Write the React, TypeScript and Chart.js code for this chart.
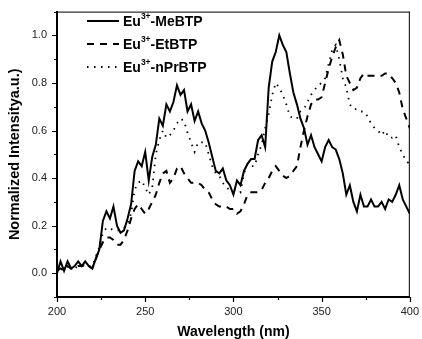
import React, { useEffect, useRef } from 'react';
import { Chart, registerables } from 'chart.js';
Chart.register(...registerables);

const wavelengths = [
  200, 202, 204, 206, 208, 210, 212, 214, 216, 218,
  220, 222, 224, 226, 228, 230, 232, 234, 236, 238,
  240, 242, 244, 246, 248, 250, 252, 254, 256, 258,
  260, 262, 264, 266, 268, 270, 272, 274, 276, 278,
  280, 282, 284, 286, 288, 290, 292, 294, 296, 298,
  300, 302, 304, 306, 308, 310, 312, 314, 316, 318,
  320, 322, 324, 326, 328, 330, 332, 334, 336, 338,
  340, 342, 344, 346, 348, 350, 352, 354, 356, 358,
  360, 362, 364, 366, 368, 370, 372, 374, 376, 378,
  380, 382, 384, 386, 388, 390, 392, 394, 396, 398,
  400,
];

const meBTP = [
  0.00, 0.05, 0.01, 0.05, 0.02, 0.03, 0.05, 0.03, 0.05, 0.03,
  0.02, 0.06, 0.10, 0.22, 0.26, 0.23, 0.28, 0.20, 0.17, 0.18,
  0.23, 0.29, 0.43, 0.47, 0.45, 0.51, 0.39, 0.49, 0.54, 0.65,
  0.62, 0.71, 0.68, 0.72, 0.79, 0.75, 0.77, 0.68, 0.71, 0.64,
  0.68, 0.63, 0.60, 0.55, 0.49, 0.43, 0.42, 0.44, 0.39, 0.37,
  0.33, 0.39, 0.37, 0.43, 0.46, 0.48, 0.48, 0.56, 0.58, 0.53,
  0.78, 0.89, 0.93, 1.00, 0.96, 0.93, 0.84, 0.76, 0.71, 0.65,
  0.61, 0.54, 0.58, 0.53, 0.50, 0.47, 0.53, 0.56, 0.53, 0.52,
  0.48, 0.42, 0.33, 0.37, 0.30, 0.26, 0.33, 0.28, 0.28, 0.31,
  0.28, 0.28, 0.30, 0.27, 0.31, 0.30, 0.33, 0.37, 0.31, 0.28,
  0.25,
];

const etBTP = [
  0.01, 0.02, 0.01, 0.03, 0.02, 0.02, 0.03, 0.03, 0.04, 0.03,
  0.02, 0.06, 0.10, 0.13, 0.15, 0.15, 0.14, 0.12, 0.12, 0.14,
  0.18, 0.23, 0.27, 0.29, 0.27, 0.25, 0.27, 0.30, 0.33, 0.38,
  0.42, 0.43, 0.38, 0.40, 0.44, 0.45, 0.42, 0.40, 0.38, 0.38,
  0.38, 0.37, 0.35, 0.34, 0.31, 0.29, 0.28, 0.28, 0.28, 0.27,
  0.27, 0.25, 0.26, 0.29, 0.33, 0.34, 0.34, 0.34, 0.35, 0.38,
  0.40, 0.43, 0.45, 0.43, 0.41, 0.40, 0.41, 0.43, 0.45, 0.53,
  0.60, 0.66, 0.71, 0.73, 0.73, 0.74, 0.80, 0.86, 0.91, 0.95,
  0.98, 0.92, 0.83, 0.80, 0.77, 0.78, 0.82, 0.84, 0.83, 0.83,
  0.83, 0.83, 0.83, 0.84, 0.84, 0.82, 0.80, 0.76, 0.69, 0.65,
  0.61,
];

const nPrBTP = [
  0.01, 0.02, 0.02, 0.03, 0.02, 0.02, 0.03, 0.03, 0.03, 0.03,
  0.03, 0.07, 0.11, 0.17, 0.19, 0.19, 0.18, 0.18, 0.18, 0.19,
  0.21, 0.25, 0.35, 0.38, 0.39, 0.36, 0.33, 0.36, 0.50, 0.56,
  0.60, 0.57, 0.58, 0.60, 0.63, 0.65, 0.64, 0.59, 0.55, 0.51,
  0.55, 0.55, 0.55, 0.50, 0.45, 0.42, 0.41, 0.38, 0.36, 0.35,
  0.35, 0.35, 0.34, 0.42, 0.46, 0.45, 0.45, 0.50, 0.54, 0.61,
  0.67, 0.75, 0.80, 0.78, 0.75, 0.71, 0.66, 0.65, 0.65, 0.68,
  0.69, 0.72, 0.75, 0.77, 0.79, 0.80, 0.82, 0.88, 0.94, 0.96,
  0.90, 0.82, 0.78, 0.71, 0.69, 0.69, 0.68, 0.68, 0.66, 0.63,
  0.61, 0.60, 0.58, 0.60, 0.57, 0.57, 0.58, 0.53, 0.50, 0.47,
  0.46,
];

const seriesNames = ['-MeBTP', '-EtBTP', '-nPrBTP'];
const xMajorTicks = [200, 250, 300, 350, 400];
const xMinorTicks = [225, 275, 325, 375];
const yMajorTicks = [0, 0.2, 0.4, 0.6, 0.8, 1.0];
const yMinorTicks = [-0.1, 0.1, 0.3, 0.5, 0.7, 0.9, 1.1];

const FONT = 'Arial, "Liberation Sans", sans-serif';

const framePlugin = {
  id: 'frameAndLegend',
  afterDraw(chart: any) {
    const { ctx, chartArea, scales } = chart;
    const { left, right, top, bottom } = chartArea;
    const xs = scales.x;
    const ys = scales.y;
    ctx.save();
    ctx.strokeStyle = '#000';
    ctx.lineWidth = 1;
    ctx.beginPath();
    ctx.moveTo(left, top + 0.5);
    ctx.lineTo(right, top + 0.5);
    ctx.moveTo(right - 0.5, top);
    ctx.lineTo(right - 0.5, bottom);
    ctx.stroke();
    ctx.lineWidth = 1.2;
    ctx.beginPath();
    xMajorTicks.forEach((v) => {
      const p = Math.round(xs.getPixelForValue(v)) + 0.5;
      ctx.moveTo(p, bottom);
      ctx.lineTo(p, bottom + 5);
    });
    xMinorTicks.forEach((v) => {
      const p = Math.round(xs.getPixelForValue(v)) + 0.5;
      ctx.moveTo(p, bottom);
      ctx.lineTo(p, bottom + 3);
    });
    yMajorTicks.forEach((v) => {
      const p = Math.round(ys.getPixelForValue(v)) + 0.5;
      ctx.moveTo(left, p);
      ctx.lineTo(left - 5, p);
    });
    yMinorTicks.forEach((v) => {
      const p = Math.round(ys.getPixelForValue(v)) + 0.5;
      ctx.moveTo(left, p);
      ctx.lineTo(left - 3, p);
    });
    ctx.stroke();

    const rowsY = [21, 44, 67];
    chart.data.datasets.forEach((ds: any, i: number) => {
      const y = rowsY[i];
      ctx.save();
      ctx.strokeStyle = '#000';
      ctx.lineWidth = ds.borderWidth;
      ctx.setLineDash(ds.borderDash || []);
      ctx.beginPath();
      ctx.moveTo(87, y);
      ctx.lineTo(119, y);
      ctx.stroke();
      ctx.restore();
      ctx.fillStyle = '#000';
      ctx.textBaseline = 'middle';
      ctx.textAlign = 'left';
      let x = 123;
      ctx.font = `bold 14px ${FONT}`;
      ctx.fillText('Eu', x, y + 1);
      x += ctx.measureText('Eu').width;
      ctx.font = `bold 8.5px ${FONT}`;
      ctx.fillText('3+', x, y - 4);
      x += ctx.measureText('3+').width;
      ctx.font = `bold 14px ${FONT}`;
      ctx.fillText(seriesNames[i], x, y + 1);
    });
    ctx.restore();
  },
};

export default function App() {
  const canvasRef = useRef<HTMLCanvasElement>(null);

  useEffect(() => {
    if (!canvasRef.current) return;
    const chart = new Chart(canvasRef.current, {
      type: 'line',
      data: {
        labels: wavelengths,
        datasets: [
          {
            label: 'Eu3+-MeBTP',
            data: wavelengths.map((w, i) => ({ x: w, y: meBTP[i] })),
            borderColor: '#000',
            borderWidth: 2,
            pointRadius: 0,
            tension: 0,
          },
          {
            label: 'Eu3+-EtBTP',
            data: wavelengths.map((w, i) => ({ x: w, y: etBTP[i] })),
            borderColor: '#000',
            borderWidth: 2,
            borderDash: [7, 6],
            pointRadius: 0,
            tension: 0,
          },
          {
            label: 'Eu3+-nPrBTP',
            data: wavelengths.map((w, i) => ({ x: w, y: nPrBTP[i] })),
            borderColor: '#000',
            borderWidth: 1.8,
            borderDash: [1.5, 5.5],
            pointRadius: 0,
            tension: 0,
          },
        ],
      },
      options: {
        responsive: false,
        animation: false,
        layout: { padding: { top: 10, right: 9, left: 0, bottom: 0 } },
        plugins: { legend: { display: false }, tooltip: { enabled: false } },
        scales: {
          x: {
            type: 'linear',
            min: 200,
            max: 400,
            afterFit: (s: any) => { s.height = 42; },
            ticks: {
              stepSize: 50,
              padding: 3,
              color: '#222',
              font: { family: FONT, size: 11 },
              callback: (v: any) => String(v),
            },
            grid: { display: true, drawOnChartArea: false, color: 'transparent', tickLength: 5 },
            border: { display: true, color: '#000', width: 2 },
            title: {
              display: true,
              text: 'Wavelength (nm)',
              color: '#000',
              font: { family: FONT, size: 14, weight: 'bold' },
              padding: { top: 0, bottom: -2 },
            },
          },
          y: {
            type: 'linear',
            min: -0.1,
            max: 1.1,
            afterFit: (s: any) => { s.width = 57; },
            ticks: {
              stepSize: 0.1,
              autoSkip: false,
              padding: 5,
              color: '#222',
              font: { family: FONT, size: 11 },
              callback: (v: any) => {
                const k = Math.round(Number(v) * 10);
                return k >= 0 && k <= 10 && k % 2 === 0 ? (k / 10).toFixed(1) : '';
              },
            },
            grid: { display: true, drawOnChartArea: false, color: 'transparent', tickLength: 5 },
            border: { display: true, color: '#000', width: 2 },
            title: {
              display: true,
              text: 'Normalized Intensitya.u.)',
              color: '#000',
              font: { family: FONT, size: 14.5, weight: 'bold' },
              padding: { top: 6, bottom: 0 },
            },
          },
        },
      },
      plugins: [framePlugin],
    });
    return () => chart.destroy();
  }, []);

  return (
    <div style={{ position: 'fixed', left: 0, top: 0, width: 422, height: 339, background: '#fff' }}>
      <canvas ref={canvasRef} width={422} height={339} />
    </div>
  );
}
